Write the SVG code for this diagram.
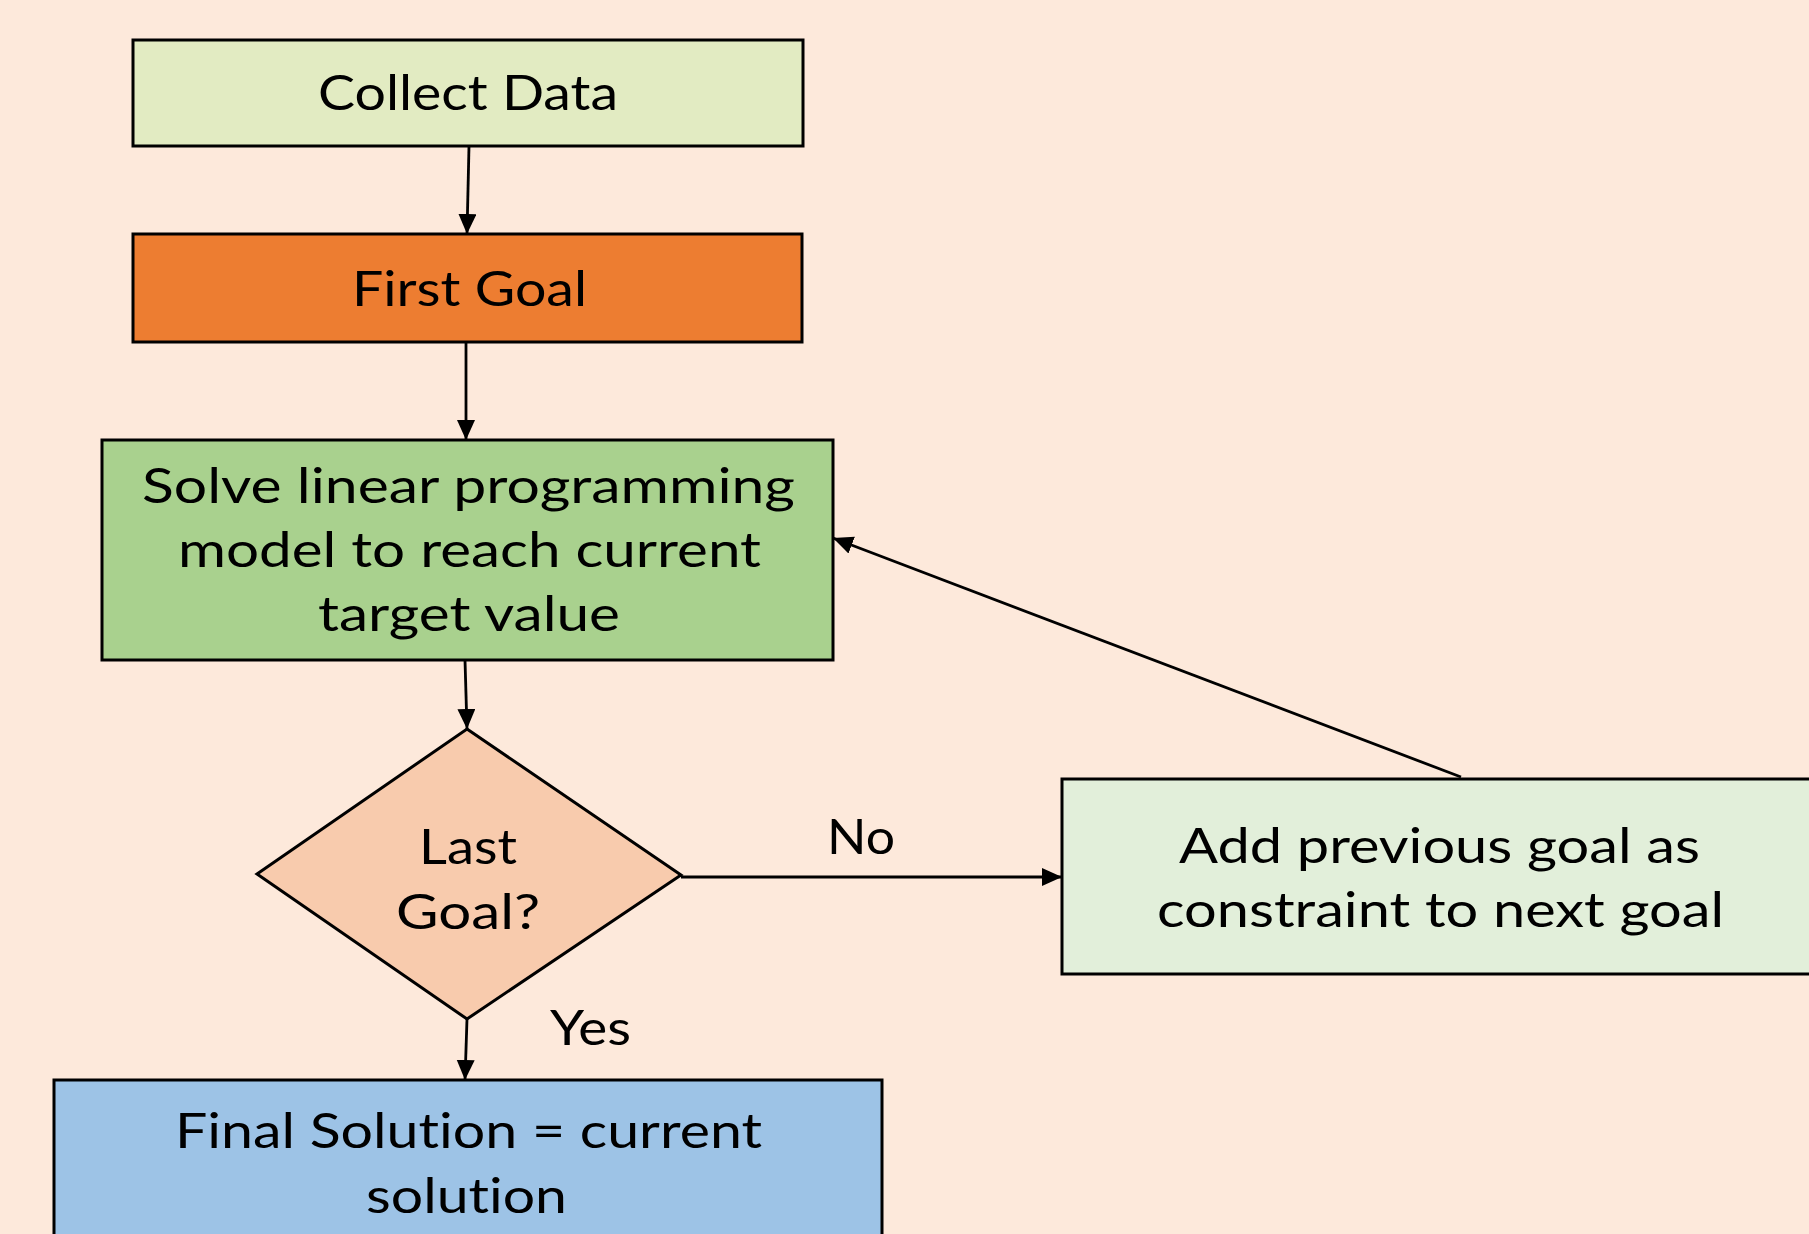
<svg xmlns="http://www.w3.org/2000/svg" width="1809" height="1234" viewBox="0 0 1809 1234">
<style>
.box{stroke:#000;stroke-width:3}
.t{font-family:Lato,"Liberation Sans",sans-serif;font-size:48px;fill:#000;text-anchor:middle;font-variant-ligatures:none;font-feature-settings:"liga" 0}
.c{fill:none;stroke:#000;stroke-width:2.8}
</style>
<defs>
<marker id="ah" markerUnits="userSpaceOnUse" markerWidth="22" markerHeight="20" refX="20" refY="9" orient="auto">
<path d="M0,0 L20,9 L0,18 Z" fill="#000"/>
</marker>
</defs>
<rect width="1809" height="1234" fill="#FDE9DB"/>
<g id="collect">
<rect class="box" x="133" y="40" width="670" height="106" fill="#E2EBC2"/>
<text class="t" x="468" y="110" textLength="300" lengthAdjust="spacingAndGlyphs">Collect Data</text>
</g>
<g id="first">
<rect class="box" x="133" y="234" width="669" height="108" fill="#ED7D31"/>
<text class="t" x="469.5" y="306" textLength="235" lengthAdjust="spacingAndGlyphs">First Goal</text>
</g>
<g id="solve">
<rect class="box" x="102" y="440" width="731" height="220" fill="#A9D18E"/>
<text class="t" x="468.5" y="503" textLength="653" lengthAdjust="spacingAndGlyphs">Solve linear programming</text>
<text class="t" x="469.5" y="567" textLength="583" lengthAdjust="spacingAndGlyphs">model to reach current</text>
<text class="t" x="469" y="631" textLength="302" lengthAdjust="spacingAndGlyphs">target value</text>
</g>
<g id="decision">
<polygon class="box" stroke-width="2.5" points="467,729 681,875 467,1019 257,874" fill="#F8CBAD"/>
<text class="t" x="468" y="864" textLength="98" lengthAdjust="spacingAndGlyphs">Last</text>
<text class="t" x="468" y="929" textLength="144" lengthAdjust="spacingAndGlyphs">Goal?</text>
</g>
<g id="add">
<rect class="box" x="1062" y="779" width="760" height="195" fill="#E2EFDA"/>
<text class="t" x="1439.5" y="863" textLength="521" lengthAdjust="spacingAndGlyphs">Add previous goal as</text>
<text class="t" x="1440.5" y="927" textLength="567" lengthAdjust="spacingAndGlyphs">constraint to next goal</text>
</g>
<g id="final">
<rect class="box" x="54" y="1080" width="828" height="170" fill="#9DC3E6"/>
<text class="t" x="468.5" y="1148" textLength="587" lengthAdjust="spacingAndGlyphs">Final Solution = current</text>
<text class="t" x="466.5" y="1213" textLength="201" lengthAdjust="spacingAndGlyphs">solution</text>
</g>
<g id="connectors">
<path class="c" d="M469,146 L467,234" marker-end="url(#ah)"/>
<path class="c" d="M466,342 L466,440" marker-end="url(#ah)"/>
<path class="c" d="M465,660 L467,729" marker-end="url(#ah)"/>
<path class="c" d="M681,877 L1062,877" marker-end="url(#ah)"/>
<path class="c" d="M467,1019 L465,1080" marker-end="url(#ah)"/>
<path class="c" d="M1461,777 L833,538" marker-end="url(#ah)"/>
<text class="t" x="861" y="854" textLength="68" lengthAdjust="spacingAndGlyphs">No</text>
<text class="t" x="590.5" y="1045" textLength="81" lengthAdjust="spacingAndGlyphs">Yes</text>
</g>
</svg>
